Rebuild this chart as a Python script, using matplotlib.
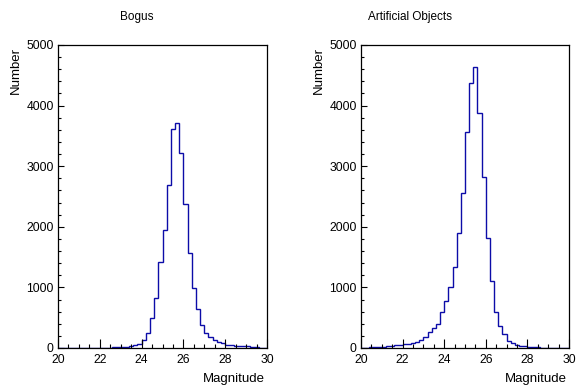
import numpy as np
import matplotlib
matplotlib.use("Agg")
import matplotlib.pyplot as plt
from matplotlib.ticker import MultipleLocator

# Histogram binning (magnitude)
bin_lo, bin_hi, n_bins = 20.0, 30.0, 50

# Bogus counts per bin (20.0 .. 29.8, width 0.2)
bogus_counts = [1, 1, 2, 1, 2, 2, 3, 3, 4, 4,
                5, 6, 7, 9, 11, 13, 17, 25, 45, 60,
                130, 240, 490, 820, 1414, 1940, 2690, 3610, 3720, 3220,
                2370, 1560, 985, 640, 385, 242, 175, 125, 92, 75,
                55, 42, 37, 33, 28, 25, 18, 15, 8, 5]

# Artificial objects counts per bin
artificial_counts = [5, 7, 9, 12, 16, 22, 28, 35, 42, 52,
                     60, 68, 84, 105, 135, 182, 262, 338, 390, 600,
                     770, 1010, 1330, 1905, 2552, 3565, 4367, 4630, 3885, 2830,
                     1820, 1108, 588, 360, 228, 121, 80, 50, 40, 27,
                     17, 12, 9, 7, 5, 4, 3, 2, 2, 1]

titles = ["Bogus", "Artificial Objects"]
x_label = "Magnitude"
y_label = "Number"

plt.rcParams['font.family'] = ['Liberation Sans', 'DejaVu Sans']

W, H = 576, 389
fig = plt.figure(figsize=(W / 100, H / 100), dpi=100)

edges = np.linspace(bin_lo, bin_hi, n_bins + 1)
panels = [
    (58, 267, bogus_counts, titles[0], 137),
    (361, 569, artificial_counts, titles[1], 410),
]
top_px, bot_px = 45, 348

for (l, r, counts, title, tx) in panels:
    ax = fig.add_axes([l / W, (H - bot_px) / H, (r - l) / W, (bot_px - top_px) / H])
    ax.stairs(counts, edges, color='#0c0ca8', linewidth=1.0)
    ax.set_xlim(bin_lo, bin_hi)
    ax.set_ylim(0, 5000)
    ax.xaxis.set_major_locator(MultipleLocator(2))
    ax.xaxis.set_minor_locator(MultipleLocator(0.5))
    ax.yaxis.set_major_locator(MultipleLocator(1000))
    ax.yaxis.set_minor_locator(MultipleLocator(200))
    ax.tick_params(axis='x', which='major', direction='in', length=6.5, width=0.8,
                   labelsize=8.7, pad=4.5, top=False)
    ax.tick_params(axis='x', which='minor', direction='in', length=3.2, width=0.8, top=False)
    ax.tick_params(axis='y', which='major', direction='in', length=4.3, width=0.8,
                   labelsize=8.7, pad=3, right=False)
    ax.tick_params(axis='y', which='minor', direction='in', length=2.4, width=0.8, right=False)
    for s in ax.spines.values():
        s.set_linewidth(0.9)
    axw = r - l
    axh = bot_px - top_px
    ax.text(1.0 - 2 / axw, -(379 - bot_px) / axh, x_label, transform=ax.transAxes,
            ha='right', va='center', fontsize=9.5)
    ax.text(((l - 42) - l) / axw, (bot_px - 47) / axh, y_label, transform=ax.transAxes,
            ha='center', va='top', rotation=90, fontsize=9.5)
    fig.text(tx / W, 1 - 17 / H, title, ha='center', va='center', fontsize=8.5)

fig.savefig("out.png", dpi=100)
